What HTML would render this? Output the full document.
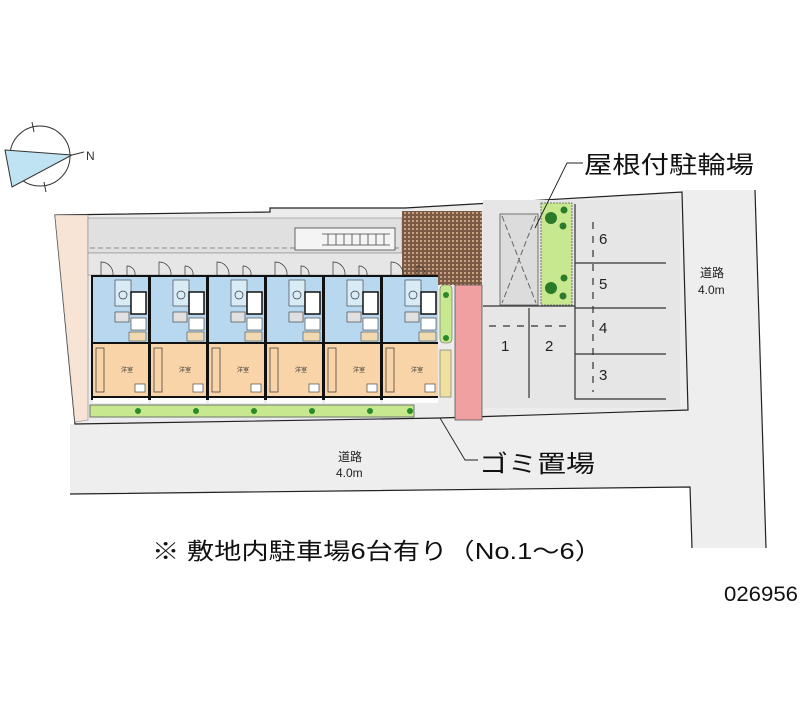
<!DOCTYPE html>
<html><head><meta charset="utf-8"><style>
html,body{margin:0;padding:0;background:#fff;}
svg{display:block;}
text{font-family:"Liberation Sans","Noto Sans CJK JP",sans-serif;}
</style></head><body>
<svg width="800" height="727" viewBox="0 0 800 727" xmlns="http://www.w3.org/2000/svg">
<defs>
<pattern id="brick" width="4" height="4" patternUnits="userSpaceOnUse">
<rect width="4" height="4" fill="#7a5a45"/><rect width="2" height="2" fill="#c8a080"/>
</pattern>
</defs>
<polygon points="682,190 755,190 766,548 692,548 690,487 70,494 70,424 688,410" fill="#eeeeee"/>
<polyline points="70,494 690,487 692,548" fill="none" stroke="#222" stroke-width="1.2"/>
<line x1="755" y1="190" x2="766" y2="548" stroke="#222" stroke-width="1.2"/>
<polygon points="55,215 270,212 270,208 405,208 682,192 688,410 440,418 75,424" fill="#ececec" stroke="#222" stroke-width="1.2"/>
<polygon points="55,215 88,215 88,420 75,422" fill="#f8e4d4" stroke="#888" stroke-width="0.6"/>
<rect x="88" y="218" width="314" height="35" fill="#e0e0e0" stroke="#888" stroke-width="0.6"/>
<line x1="90" y1="248" x2="400" y2="248" stroke="#888" stroke-dasharray="5,3"/>
<rect x="295" y="228" width="100" height="22" fill="#f4f4f4" stroke="#444" stroke-width="0.8"/>
<g stroke="#444" stroke-width="0.8"><line x1="322" y1="234" x2="390" y2="234"/><line x1="322" y1="245" x2="390" y2="245"/>
<line x1="328" y1="234" x2="328" y2="245"/><line x1="336" y1="234" x2="336" y2="245"/><line x1="344" y1="234" x2="344" y2="245"/><line x1="352" y1="234" x2="352" y2="245"/><line x1="360" y1="234" x2="360" y2="245"/><line x1="368" y1="234" x2="368" y2="245"/><line x1="376" y1="234" x2="376" y2="245"/><line x1="384" y1="234" x2="384" y2="245"/></g>
<rect x="88" y="253" width="350" height="22" fill="#e6e6e6" stroke="#888" stroke-width="0.6"/>
<rect x="402" y="211" width="80" height="74" fill="url(#brick)"/>
<rect x="455" y="285" width="27" height="135" fill="#f0a0a0" stroke="#555" stroke-width="0.8"/>
<rect x="440" y="285" width="12" height="58" rx="4" fill="#c8e890" stroke="#666" stroke-width="0.6"/>
<circle cx="446" cy="295" r="3" fill="#2a8a2a"/><circle cx="446" cy="338" r="3" fill="#2a8a2a"/>
<rect x="440" y="350" width="11" height="47" fill="#f0e0a0" stroke="#666" stroke-width="0.6"/>
<rect x="90" y="405" width="324" height="12" fill="#c8e890" stroke="#555" stroke-width="0.8"/>
<g fill="#2a8a2a"><circle cx="138" cy="411" r="3"/><circle cx="196" cy="411" r="3"/><circle cx="254" cy="411" r="3"/><circle cx="312" cy="411" r="3"/><circle cx="370" cy="411" r="3"/><circle cx="410" cy="411" r="3"/></g>
<rect x="91" y="275" width="347" height="125" fill="#111"/>
<g id="units">
<g transform="translate(93,0)">
<path d="M8,275 L8,262 A12,12 0 0 1 20,275" fill="none" stroke="#333" stroke-width="0.7"/>
<path d="M34,275 L34,266 A8,8 0 0 1 42,275" fill="none" stroke="#333" stroke-width="0.7"/>
<rect x="0" y="277" width="55" height="65" fill="#b8d8f0"/>
<rect x="22" y="280" width="16" height="26" fill="#d8ecf8" stroke="#333" stroke-width="0.6"/>
<circle cx="30" cy="295" r="4" fill="none" stroke="#333" stroke-width="0.7"/>
<rect x="38" y="292" width="15" height="22" fill="#fff" stroke="#111" stroke-width="1.5"/>
<rect x="22" y="312" width="14" height="10" fill="#e0e0e0" stroke="#333" stroke-width="0.6"/>
<rect x="38" y="318" width="15" height="12" fill="#fff" stroke="#333" stroke-width="0.6"/>
<rect x="36" y="332" width="17" height="9" fill="#f0d8b0" stroke="#333" stroke-width="0.5"/>
<rect x="0" y="344" width="55" height="52" fill="#f8d4a8"/>
<rect x="3" y="348" width="8" height="44" fill="none" stroke="#333" stroke-width="0.7"/>
<text x="28" y="372" font-size="6" fill="#333">洋室</text>
<rect x="42" y="384" width="10" height="8" fill="#fff" stroke="#333" stroke-width="0.6"/>
<rect x="0" y="398" width="55" height="5" fill="#fff"/>
</g>
</g>
<use href="#units" x="58"/><use href="#units" x="116"/><use href="#units" x="174"/><use href="#units" x="232"/><use href="#units" x="290"/>
<rect x="483" y="200" width="197" height="208" fill="#e6e6e6"/>
<rect x="500" y="214" width="38" height="91" fill="#dcdcdc" stroke="#555" stroke-width="0.8"/>
<line x1="502" y1="216" x2="536" y2="303" stroke="#666" stroke-dasharray="6,3"/><line x1="536" y1="216" x2="502" y2="303" stroke="#666" stroke-dasharray="6,3"/>
<rect x="541" y="203" width="31" height="102" fill="#c8e890" stroke="#555" stroke-width="0.8" stroke-dasharray="2,1"/>
<g fill="#2a7a2a"><circle cx="551" cy="218" r="6"/><circle cx="564" cy="210" r="3.5"/><circle cx="563" cy="226" r="3.5"/><circle cx="551" cy="288" r="6"/><circle cx="564" cy="278" r="3.5"/><circle cx="563" cy="296" r="3.5"/></g>
<g stroke="#333" stroke-width="1.2" fill="none">
<line x1="483" y1="306" x2="575" y2="306"/>
<line x1="529" y1="308" x2="529" y2="398"/>
<polyline points="575,204 575,399 666,399"/>
<line x1="575" y1="263" x2="666" y2="263"/><line x1="575" y1="308" x2="666" y2="308"/><line x1="575" y1="354" x2="666" y2="354"/>
<line x1="593" y1="222" x2="593" y2="392" stroke-dasharray="7,7"/>
<line x1="489" y1="326" x2="570" y2="326" stroke-dasharray="7,7"/>
</g>
<g font-size="15" fill="#222">
<text x="599" y="244">6</text><text x="599" y="289">5</text><text x="599" y="333">4</text><text x="599" y="380">3</text>
<text x="501" y="351">1</text><text x="545" y="351">2</text>
</g>
<text x="700" y="277" font-size="12" fill="#222">道路</text>
<text x="698" y="294" font-size="12" fill="#222" font-family="Liberation Mono,monospace">4.0m</text>
<text x="338" y="461" font-size="12" fill="#222">道路</text>
<text x="336" y="477" font-size="12" fill="#222" font-family="Liberation Mono,monospace">4.0m</text>
<polyline points="535,228 567,163 583,163" fill="none" stroke="#222" stroke-width="0.9"/>
<text x="584" y="173" font-size="24" fill="#111" textLength="170" lengthAdjust="spacingAndGlyphs">屋根付駐輪場</text>
<polyline points="440,418 465,460 478,460" fill="none" stroke="#222" stroke-width="0.9"/>
<text x="479" y="472" font-size="24" fill="#111" textLength="116" lengthAdjust="spacingAndGlyphs">ゴミ置場</text>
<text x="152" y="559" font-size="23" fill="#111" textLength="450" lengthAdjust="spacingAndGlyphs">※ 敷地内駐車場6台有り（No.1～6）</text>
<text x="724" y="601" font-size="21" fill="#111" textLength="74" lengthAdjust="spacingAndGlyphs">026956</text>
<circle cx="40" cy="156" r="30" fill="none" stroke="#333" stroke-width="1"/>
<polygon points="5,150 72,155 12,187" fill="#bfe3f2" stroke="#333" stroke-width="1"/>
<line x1="72" y1="155" x2="84" y2="152" stroke="#333"/>
<text x="86" y="160" font-size="12" fill="#333">N</text>
<line x1="32" y1="122" x2="34" y2="132" stroke="#333"/><line x1="44" y1="182" x2="46" y2="192" stroke="#333"/>
</svg>
</body></html>
